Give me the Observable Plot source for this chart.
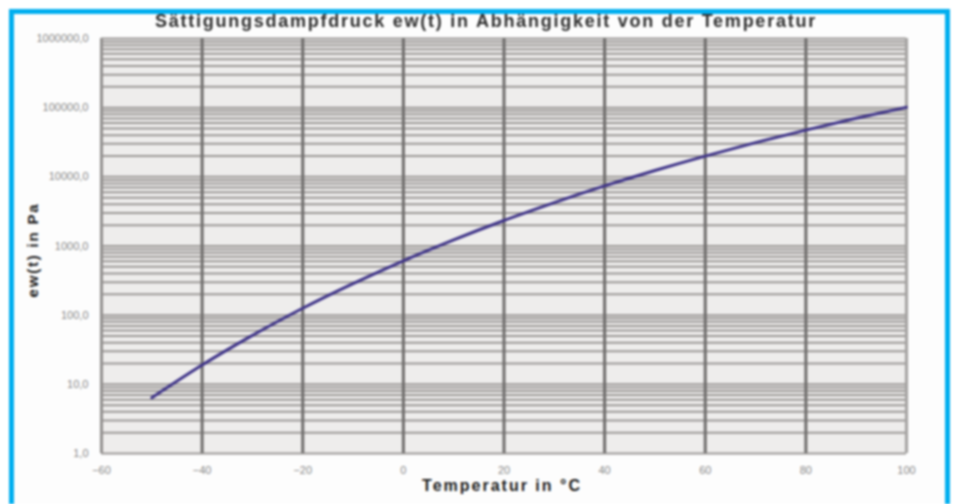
<!DOCTYPE html>
<html><head><meta charset="utf-8">
<script src="https://cdn.jsdelivr.net/npm/d3@7"></script>
<script src="https://cdn.jsdelivr.net/npm/@observablehq/plot@0.6"></script>
<style>
html,body{margin:0;padding:0;background:#fff;}
#wrap{position:relative;width:953px;height:504px;overflow:hidden;font-family:"Liberation Sans",Arial,sans-serif;filter:blur(0.8px);}
#frame{position:absolute;left:9px;top:9px;width:931px;height:520px;border:5px solid #00aeef;background:#fdfdfd;}
#title{position:absolute;left:0;width:972px;top:11px;text-align:center;font-weight:bold;font-size:18px;color:#2e2e2e;letter-spacing:1.75px;}
#ylab{position:absolute;left:32px;top:250px;transform:translate(-50%,-50%) rotate(-90deg);font-weight:bold;font-size:15px;color:#1a1a1a;white-space:nowrap;letter-spacing:1.8px;}
#xlab{position:absolute;left:502px;top:477px;transform:translateX(-50%);font-weight:bold;font-size:16px;color:#1a1a1a;white-space:nowrap;letter-spacing:2px;}
#chart{position:absolute;left:0;top:0;}
</style></head>
<body><div id="wrap"><div id="frame"></div><div id="chart"></div>
<div id="title">Sättigungsdampfdruck ew(t) in Abhängigkeit von der Temperatur</div>
<div id="ylab">ew(t) in Pa</div>
<div id="xlab">Temperatur in °C</div>
</div>
<script>
const temperatures = [-50,-40,-30,-20,-10,0,10,20,30,40,50,60,70,80,90,100];
const pressures = [6.4,19,51,126,286,611,1228,2339,4246,7384,12350,19940,31190,47410,70140,101325];
const xTicks = [-60,-40,-20,0,20,40,60,80,100];
const yTicks = [1,10,100,1000,10000,100000,1000000];
const minorMultipliers = [1,2,3,4,5,6,7,8,9];

const minor = [];
for (const d of yTicks.slice(0,-1)) for (const m of minorMultipliers) minor.push(d*m);
minor.push(1000000);
const data = temperatures.map((t,i)=>({t, p: pressures[i]}));
const fmt = d => d.toFixed(1).replace(".", ",");

const chart = Plot.plot({
  width: 953, height: 504,
  marginLeft: 101, marginRight: 47, marginTop: 38, marginBottom: 51,
  style: {background: "transparent", fontFamily: "'Liberation Sans', Arial, sans-serif", fontSize: "11px", color: "#777"},
  x: {domain: [-60, 100], ticks: xTicks, tickSize: 0, label: null},
  y: {type: "log", domain: [1, 1000000], ticks: yTicks, tickFormat: fmt, tickSize: 0, label: null},
  marks: [
    Plot.frame({fill: "#eeedec", stroke: null}),
    Plot.ruleY(minor, {stroke: "#9c9997", strokeWidth: 2}),
    Plot.ruleX(xTicks, {stroke: "#6f6d6c", strokeWidth: 3}),
    Plot.ruleX([100], {stroke: "#bdbbba", strokeWidth: 2}),
    Plot.ruleX([-60], {stroke: "#a4a19f", strokeWidth: 2}),
    Plot.line(data, {x: "t", y: "p", curve: "natural", stroke: "#3e3388", strokeWidth: 3}),
    Plot.axisX({ticks: xTicks, tickSize: 0, tickPadding: 13, fill: "#888", label: null, style: {letterSpacing: "0.3px"}}),
    Plot.axisY({ticks: yTicks, tickFormat: fmt, tickSize: 0, tickPadding: 13, fill: "#888", label: null, style: {letterSpacing: "0.8px"}})
  ]
});
document.getElementById("chart").appendChild(chart);
</script>
</body></html>
